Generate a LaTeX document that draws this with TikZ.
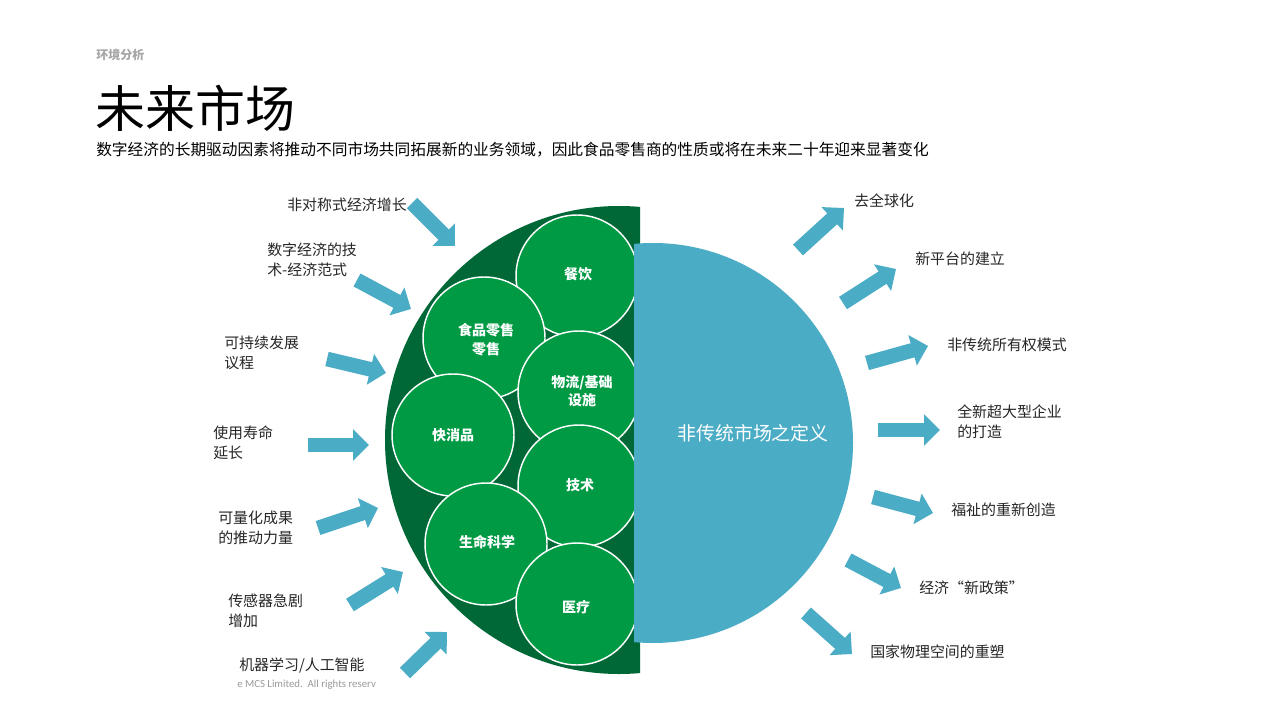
\documentclass[tikz,border=0pt]{standalone}
\usepackage{fontspec}
\setmainfont{Noto Sans CJK SC}
\newfontfamily\latinf{Carlito}
\usetikzlibrary{arrows.meta}
\definecolor{cblue}{HTML}{4BACC6}
\definecolor{dgreen}{HTML}{006837}
\definecolor{mgreen}{HTML}{009A44}
\definecolor{txt}{HTML}{262626}
\tikzset{
  blockarrow/.style={draw=cblue, line width=11pt, -{Triangle[length=12pt,width=23pt]}, fill=cblue},
  lab/.style={anchor=west, align=left, text=txt, font=\fontsize{11.2pt}{15pt}\selectfont, inner sep=0pt},
  bub/.style={circle, minimum size=91.5pt, inner sep=0pt, fill=mgreen, draw=white, line width=1.1pt},
  bubtxt/.style={text=white, align=center, font=\fontsize{10.5pt}{14pt}\selectfont\bfseries, inner sep=0pt}
}
\begin{document}
\begin{tikzpicture}[x=0.75pt,y=0.75pt]
\useasboundingbox (0,0) rectangle (1280,-720);
\fill[white] (0,0) rectangle (1280,-720);
% header
\node[anchor=west, inner sep=0pt, text=gray!70, font=\fontsize{9pt}{11pt}\selectfont\bfseries] (sec) at (96,-55) {环境分析};
\node[anchor=west, inner sep=0pt, text=black, font=\fontsize{37.5pt}{40pt}\selectfont] (title) at (95,-108) {未来市场};
\node[anchor=west, inner sep=0pt, text=black, font=\fontsize{11.78pt}{14pt}\selectfont] (sub) at (96,-150) {数字经济的长期驱动因素将推动不同市场共同拓展新的业务领域，因此食品零售商的性质或将在未来二十年迎来显著变化};
% dark green half disc
\begin{scope}
\clip (370,-190) rectangle (640,-690);
\fill[dgreen] (619,-440) circle[radius=234];
\end{scope}
% bubbles
\node[bub] (b1) at (577,-276) {};
\node[bub] (b2) at (484,-338) {};
\node[bub] (b3) at (579,-392) {};
\node[bub] (b4) at (453,-435) {};
\node[bub] (b5) at (579,-486) {};
\node[bub] (b6) at (486,-544) {};
\node[bub] (b7) at (577,-604) {};
% blue half disc
\begin{scope}
\clip (634,-230) rectangle (880,-660);
\fill[cblue] (653,-443) circle[radius=200];
\end{scope}
\node[bubtxt] (t1) at (578,-274) {餐饮};
\node[bubtxt] (t2) at (486,-340) {食品零售\\零售};
\node[bubtxt] (t3) at (582,-391) {物流/基础\\设施};
\node[bubtxt] (t4) at (453,-435) {快消品};
\node[bubtxt] (t5) at (580,-485) {技术};
\node[bubtxt] (t6) at (487,-542) {生命科学};
\node[bubtxt] (t7) at (576,-607) {医疗};
\node[text=white, inner sep=0pt, font=\fontsize{14.2pt}{16pt}\selectfont] (center) at (753,-433) {非传统市场之定义};
% left arrows
\draw[blockarrow] (412,-203) -- (455,-246);
\draw[blockarrow] (357,-280) -- (411,-309);
\draw[blockarrow] (327,-359) -- (386,-373);
\draw[blockarrow] (308,-445) -- (369,-445);
\draw[blockarrow] (318,-528) -- (378,-508);
\draw[blockarrow] (350,-605) -- (403,-572);
\draw[blockarrow] (405,-673) -- (447,-632);
% right arrows
\draw[blockarrow] (798,-250) -- (844,-208);
\draw[blockarrow] (843,-303) -- (896,-269);
\draw[blockarrow] (867,-363) -- (928,-346);
\draw[blockarrow] (878,-430) -- (940,-430);
\draw[blockarrow] (873,-497) -- (933,-513);
\draw[blockarrow] (848,-560) -- (901,-588);
\draw[blockarrow] (806,-613) -- (852,-654);
% left labels
\node[lab] (l1) at (287,-205) {非对称式经济增长};
\node[lab] (l2) at (267,-260) {数字经济的技\\术-经济范式};
\node[lab] (l3) at (224,-353) {可持续发展\\议程};
\node[lab] (l4) at (213,-443) {使用寿命\\延长};
\node[lab] (l5) at (218,-528) {可量化成果\\的推动力量};
\node[lab] (l6) at (228,-611) {传感器急剧\\增加};
\node[lab] (l7) at (239,-665) {机器学习/人工智能};
% right labels
\node[lab] (r1) at (854,-201) {去全球化};
\node[lab] (r2) at (915,-259) {新平台的建立};
\node[lab] (r3) at (947,-345) {非传统所有权模式};
\node[lab] (r4) at (957,-422) {全新超大型企业\\的打造};
\node[lab] (r5) at (951,-510) {福祉的重新创造};
\node[lab] (r6) at (919,-588) {经济“新政策”};
\node[lab] (r7) at (870,-652) {国家物理空间的重塑};
% footer
\node[anchor=west, inner sep=0pt, text=gray!80, font=\latinf\fontsize{8.1pt}{9pt}\selectfont] (foot) at (237,-685) {e MCS Limited.\ \ All rights reserv};
\end{tikzpicture}
\end{document}
